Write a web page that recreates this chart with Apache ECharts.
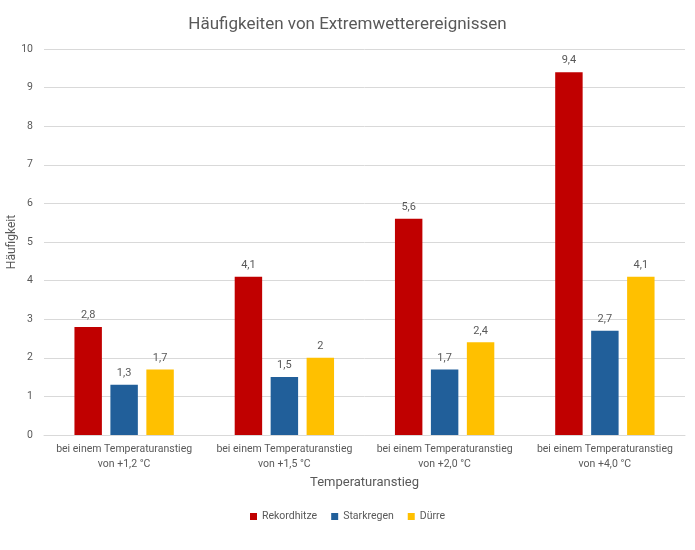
<!DOCTYPE html>
<html>
<head>
<meta charset="utf-8">
<script src="https://cdn.jsdelivr.net/npm/echarts@6/dist/echarts.min.js"></script>
<style>
  html, body { margin: 0; padding: 0; background: #fff; }
  #chart { width: 695px; height: 550px; }
</style>
</head>
<body>
<div id="chart"></div>
<script>
  // Daten
  var categories = [
    'bei einem Temperaturanstieg\nvon +1,2 °C',
    'bei einem Temperaturanstieg\nvon +1,5 °C',
    'bei einem Temperaturanstieg\nvon +2,0 °C',
    'bei einem Temperaturanstieg\nvon +4,0 °C'
  ];
  var rekordhitze = [2.8, 4.1, 5.6, 9.4];
  var starkregen = [1.3, 1.5, 1.7, 2.7];
  var duerre = [1.7, 2.0, 2.4, 4.1];

  var font = '"Roboto", sans-serif';
  var grau = '#595959';

  function komma(p) {
    return String(p.value).replace('.', ',');
  }

  function serie(name, data, farbe) {
    return {
      name: name,
      type: 'bar',
      data: data,
      barGap: '31%',
      barCategoryGap: '38%',
      itemStyle: { color: farbe },
      label: {
        show: true,
        position: 'top',
        distance: 6,
        color: grau,
        fontSize: 11,
        fontFamily: font,
        formatter: komma
      }
    };
  }

  var myChart = echarts.init(document.getElementById('chart'));

  var option = {
    animation: false,
    title: {
      text: 'Häufigkeiten von Extremwetterereignissen',
      left: 'center',
      top: 11,
      textStyle: { color: grau, fontSize: 17, fontWeight: 'normal', fontFamily: font }
    },
    legend: {
      bottom: 23,
      left: 'center',
      itemWidth: 7,
      itemHeight: 7,
      itemGap: 14,
      icon: 'rect',
      textStyle: { color: grau, fontSize: 10.5, fontFamily: font },
      data: ['Rekordhitze', 'Starkregen', 'Dürre']
    },
    grid: { left: 44, right: 10, top: 49, bottom: 115, outerBoundsMode: 'none' },
    xAxis: {
      type: 'category',
      data: categories,
      name: 'Temperaturanstieg',
      nameLocation: 'middle',
      nameGap: 41,
      nameMoveOverlap: false,
      nameTextStyle: { color: grau, fontSize: 13, fontFamily: font },
      axisLine: { lineStyle: { color: '#d9d9d9' } },
      axisTick: { show: false },
      axisLabel: { interval: 0, color: grau, fontSize: 10.5, fontFamily: font, lineHeight: 15, margin: 7 }
    },
    yAxis: {
      type: 'value',
      min: 0,
      max: 10,
      interval: 1,
      name: 'Häufigkeit',
      nameLocation: 'middle',
      nameGap: 26,
      nameMoveOverlap: false,
      nameTextStyle: { color: grau, fontSize: 12, fontFamily: font },
      axisLine: { show: false },
      axisLabel: { color: grau, fontSize: 10.5, fontFamily: font, margin: 11 },
      splitLine: { lineStyle: { color: '#d9d9d9' } }
    },
    series: [
      serie('Rekordhitze', rekordhitze, '#C00000'),
      serie('Starkregen', starkregen, '#215F9A'),
      serie('Dürre', duerre, '#FFC000')
    ]
  };

  myChart.setOption(option);
</script>
</body>
</html>
